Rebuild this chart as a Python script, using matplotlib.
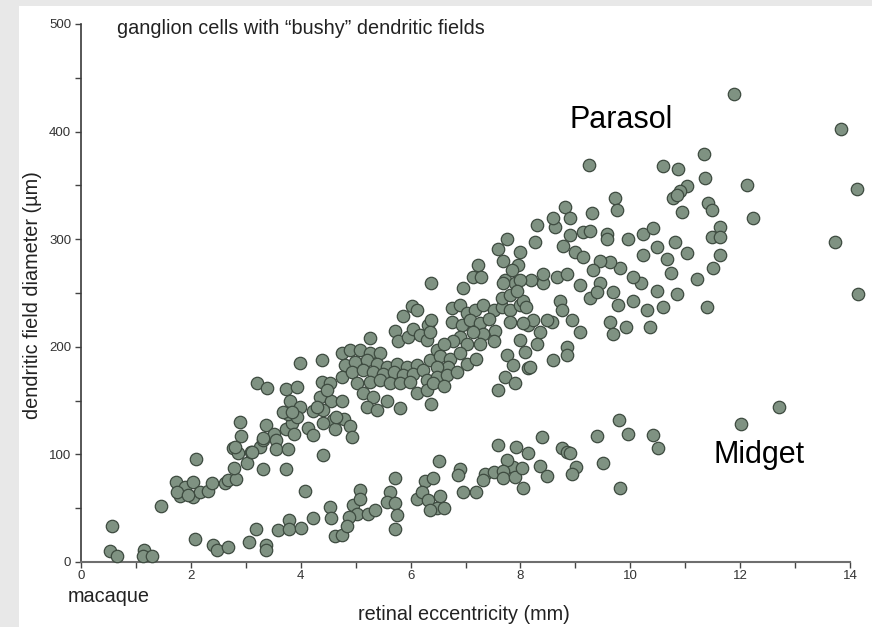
import numpy as np
import matplotlib
matplotlib.use('Agg')
import matplotlib.pyplot as plt
from matplotlib.patches import Rectangle

# parasol cells (upper band), eccentricity in mm, diameter in um
parasol_x = [1.46, 2.09, 1.73, 1.80, 1.89, 2.04, 2.04, 2.17, 2.32, 2.39, 1.75, 1.95, 2.62, 2.68, 2.82,
             2.79, 2.77, 2.85, 2.92, 2.89, 3.03, 3.09, 3.25, 3.32, 3.31, 3.37, 3.52, 3.55, 3.55, 3.74,
             3.84, 3.87, 3.76, 3.73, 4.14, 3.21, 3.39,
             3.99, 4.38, 5.26, 5.87, 6.02, 6.11, 5.72, 5.78, 5.96, 6.05, 6.17, 6.32, 6.38, 6.29, 6.35,
             6.75, 6.90, 7.02, 7.17, 7.32, 7.51, 7.66, 7.81, 7.99, 6.75, 6.93, 7.08, 7.26, 7.42, 7.54,
             7.32, 7.14, 6.90, 6.78, 7.02, 7.26, 7.51, 7.99, 8.08, 8.14, 7.75, 7.87, 8.14, 7.72, 7.90,
             7.60,
             4.75, 4.90, 5.08, 5.26, 5.44, 4.81, 4.99, 5.20, 5.38, 5.57, 5.75, 5.93, 6.11, 4.75, 4.93,
             5.14, 5.32, 5.50, 5.69, 5.87, 6.05, 6.23, 6.35, 6.48, 6.60, 6.54, 6.72, 6.90, 7.02, 7.20,
             6.69, 6.48, 6.29, 6.48, 6.66, 6.84, 5.02, 5.26, 5.44, 5.63, 5.81, 5.99, 6.11, 6.29, 6.41,
             6.60, 5.14, 5.32, 5.57, 5.81, 6.38, 5.20, 5.38,
             3.74, 3.93, 3.80, 3.99, 3.77, 3.93, 4.23, 4.38, 4.53, 4.35, 4.56, 4.75, 4.41, 4.59, 4.78,
             4.41, 4.62, 4.90, 4.93, 4.23, 4.41, 3.67, 3.84, 4.29, 4.47, 4.65, 3.32, 2.80, 3.11,
             7.60, 7.23, 7.14, 7.29, 6.95, 6.38, 7.69, 7.66,
             8.30, 8.27, 8.63, 8.90, 8.78, 8.99, 9.14, 9.27, 9.57, 9.57, 9.96, 10.24, 10.42, 10.48,
             10.24, 10.66, 10.75, 10.81, 11.03, 11.21, 11.51, 11.63, 11.48, 11.63, 10.85, 11.39, 10.30,
             10.36, 9.93, 10.05, 9.69, 9.78, 9.63, 9.69, 10.60, 10.48, 10.19, 10.05, 9.81, 9.63, 9.45,
             9.33, 9.14, 9.08, 9.27, 9.45, 9.39, 8.72, 8.75, 8.57, 8.93, 9.08, 8.84, 8.84, 8.60, 8.36,
             8.30, 8.17, 8.48, 8.23, 8.42, 8.66, 8.84, 7.75, 7.99, 7.96, 7.72, 7.90, 7.81, 8.05, 8.20,
             8.42, 11.63, 7.84, 7.99, 7.69, 7.93, 8.11, 7.81, 8.05,
             11.88, 13.83, 9.25, 10.60, 10.87, 11.34, 11.36, 12.12, 14.13, 12.24, 11.03, 10.91, 10.78,
             10.85, 11.42, 11.48, 10.94, 9.72, 9.75, 9.30, 8.81, 8.60, 8.90, 13.73, 14.15]
parasol_y = [52, 96, 74, 61, 70, 74, 60, 65, 66, 73, 65, 62, 73, 76, 77,
             87, 106, 101, 117, 130, 92, 102, 107, 113, 86, 127, 119, 113, 105, 124,
             129, 119, 105, 86, 125, 166, 162,
             185, 188, 208, 229, 238, 234, 215, 205, 209, 217, 211, 220, 225, 206, 214,
             236, 239, 231, 234, 239, 234, 237, 234, 239, 223, 220, 225, 222, 226, 215,
             212, 214, 209, 205, 203, 203, 205, 206, 195, 220, 192, 183, 180, 172, 166,
             160,
             194, 197, 197, 194, 194, 183, 186, 188, 184, 181, 184, 181, 183, 172, 177,
             178, 177, 175, 177, 174, 175, 178, 188, 197, 203, 191, 189, 194, 184, 189,
             181, 181, 169, 172, 174, 177, 166, 167, 169, 166, 166, 167, 157, 160, 166,
             164, 157, 153, 150, 143, 147, 144, 141,
             161, 163, 150, 144, 138, 135, 140, 167, 166, 153, 150, 150, 141, 132, 133,
             129, 124, 126, 116, 118, 99, 139, 139, 144, 160, 135, 115, 107, 102,
             291, 276, 265, 265, 255, 259, 280, 245,
             313, 297, 311, 304, 294, 288, 307, 308, 305, 300, 300, 305, 310, 293,
             285, 282, 269, 297, 287, 263, 273, 285, 302, 311, 249, 237, 234,
             218, 218, 243, 251, 239, 223, 212, 237, 252, 259, 265, 273, 279, 280,
             271, 283, 257, 245, 259, 251, 243, 234, 223, 225, 214, 200, 192, 188, 214,
             203, 181, 225, 225, 259, 265, 268, 300, 288, 276, 262, 259, 248, 243, 262,
             268, 302, 271, 262, 259, 252, 237, 223, 222,
             435, 402, 369, 368, 365, 379, 357, 350, 347, 320, 349, 345, 338,
             341, 334, 327, 325, 338, 327, 324, 330, 320, 320, 297, 249]

# midget cells (lower band)
midget_x = [0.56, 0.52, 0.66, 1.15, 1.12, 1.30, 2.08, 2.40, 2.47, 2.68, 3.06, 3.19, 3.36, 3.36, 3.58,
            3.79, 3.79, 4.00, 4.08,
            4.23, 4.53, 4.56, 4.62, 4.75, 5.08, 4.96, 5.02, 4.87, 4.84, 5.23, 5.35, 5.08, 5.72, 5.63,
            5.57, 5.72, 5.75, 5.72, 6.51, 6.26, 6.41, 6.11, 6.20, 6.32, 6.54, 6.48, 6.35, 6.60, 6.90,
            6.87, 6.96, 7.20, 7.35, 7.51, 7.32, 7.60, 7.87,
            9.80, 9.39, 9.95, 10.42, 10.51, 12.01, 8.39, 7.92, 8.14, 8.75, 8.84, 8.90, 7.75, 7.69,
            7.69, 7.90, 8.02, 8.05, 8.36, 8.48, 9.02, 8.93, 9.51, 9.81, 12.71]
midget_y = [33, 10, 6, 11, 6, 6, 21, 16, 11, 14, 19, 31, 16, 11, 30,
            39, 31, 32, 66,
            41, 51, 41, 24, 25, 67, 53, 45, 42, 33, 45, 48, 59, 78, 65,
            56, 55, 44, 31, 94, 75, 78, 59, 65, 58, 61, 50, 48, 50, 86,
            81, 65, 65, 82, 84, 76, 109, 88,
            132, 117, 119, 118, 106, 128, 116, 107, 101, 106, 102, 101, 95, 85,
            78, 79, 87, 69, 89, 80, 88, 82, 92, 69, 144]

scan_font = ['Liberation Sans', 'DejaVu Sans']
dot_face = '#7f9282'
dot_edge = '#3e4b40'

fig = plt.figure(figsize=(8.72, 6.27), dpi=100)
fig.patch.set_facecolor('#e8e8e8')

# white page inside the grey border, behind everything
fig.patches.append(Rectangle((19 / 872, 0), 1, 1 - 6 / 627, transform=fig.transFigure,
                             facecolor='white', edgecolor='none', zorder=-10))

ax = fig.add_axes([81 / 872, 65 / 627, (850 - 81) / 872, (562 - 24) / 627])
ax.set_facecolor('none')

# the dots
ax.scatter(parasol_x, parasol_y, s=80, c=dot_face, edgecolors=dot_edge, linewidths=0.9,
           clip_on=False, zorder=3)
ax.scatter(midget_x, midget_y, s=80, c=dot_face, edgecolors=dot_edge, linewidths=0.9,
           clip_on=False, zorder=3)

ax.set_xlim(0, 14)
ax.set_ylim(0, 500)

# axes like the scanned figure
for side in ['top', 'right']:
    ax.spines[side].set_visible(False)
ax.spines['left'].set_color('#3a3a3a')
ax.spines['left'].set_linewidth(1.2)
ax.spines['bottom'].set_color('#6e6e6e')
ax.spines['bottom'].set_linewidth(1.5)

ax.set_xticks(np.arange(0, 15, 2))
ax.set_xticks(np.arange(0, 15, 1), minor=True)
ax.set_yticks(np.arange(0, 501, 100))
ax.set_yticks(np.arange(0, 501, 50), minor=True)
ax.tick_params(which='both', direction='out', length=4, width=1, color='#444444',
               labelsize=9.5, labelcolor='#333333')
ax.tick_params(axis='x', pad=2)
ax.tick_params(axis='y', pad=3)
for lab in ax.get_xticklabels() + ax.get_yticklabels():
    lab.set_family(scan_font)

# texts from the scan
fig.text(117 / 872, 1 - 29 / 627, 'ganglion cells with \u201cbushy\u201d dendritic fields',
         family=scan_font, fontsize=14.3, color='#222222', va='center', ha='left')
fig.text(33 / 872, 1 - 295 / 627, 'dendritic field diameter (\u00b5m)', family=scan_font,
         fontsize=14.3, color='#222222', rotation=90, va='center', ha='center')
fig.text(464 / 872, 1 - 614 / 627, 'retinal eccentricity (mm)', family=scan_font,
         fontsize=14.3, color='#222222', va='center', ha='center')
fig.text(68 / 872, 1 - 597 / 627, 'macaque', family=scan_font, fontsize=14.3,
         color='#222222', va='center', ha='left')

# labels added on top
ax.text(8.90, 403, 'Parasol', family=scan_font, fontsize=22, color='black',
        ha='left', va='baseline')
ax.text(11.51, 92, 'Midget', family=scan_font, fontsize=22, color='black',
        ha='left', va='baseline')

fig.savefig('out.png', dpi=100, facecolor=fig.get_facecolor())
